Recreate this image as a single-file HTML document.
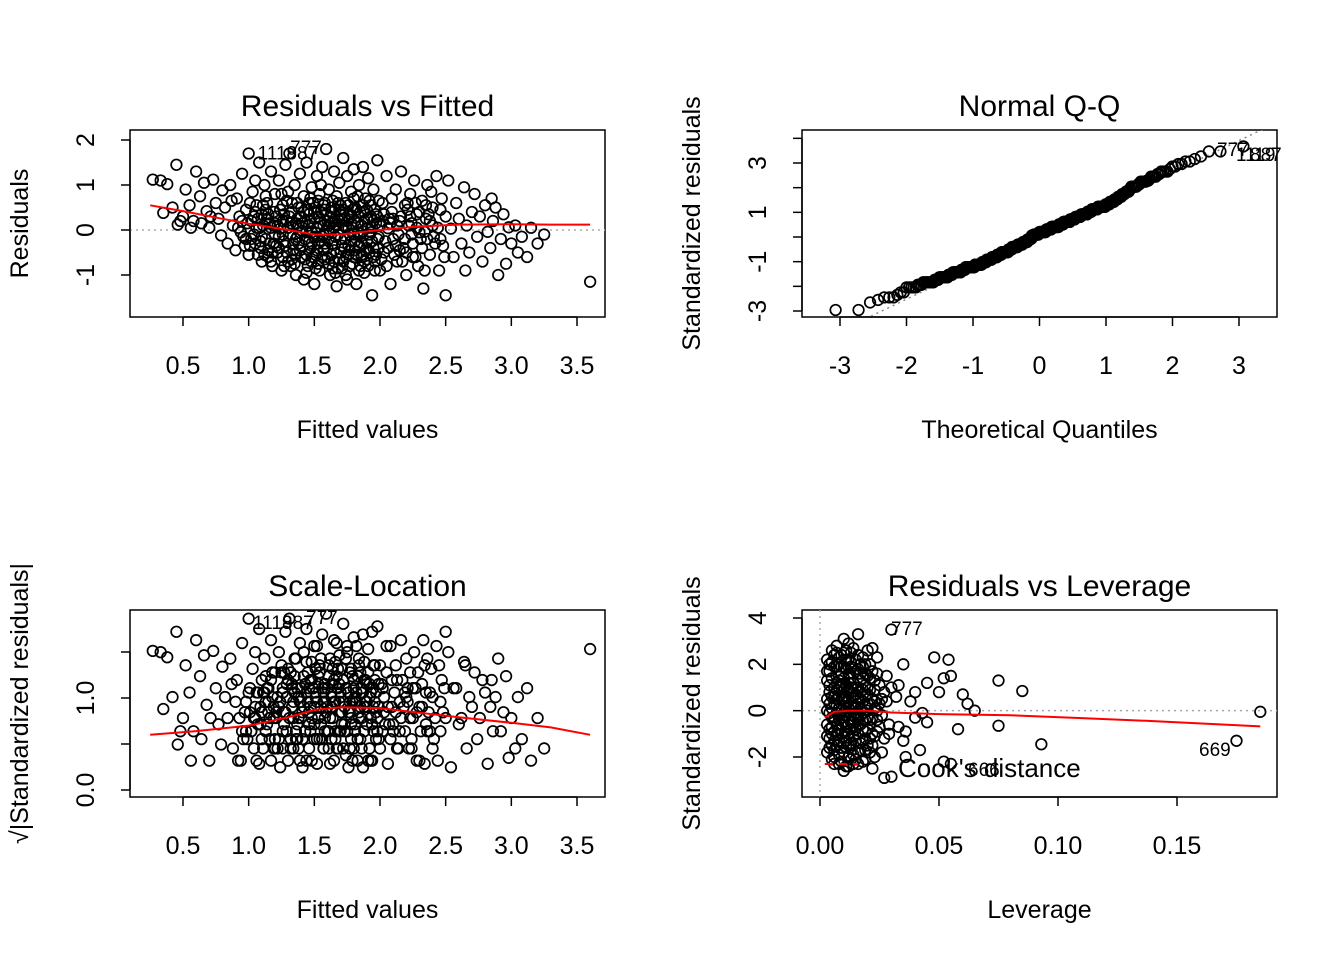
<!DOCTYPE html>
<html><head><meta charset="utf-8"><style>
html,body{margin:0;padding:0;background:#fff;}
svg{display:block;font-family:"Liberation Sans",Arial,sans-serif;}
</style></head><body>
<svg id="c" width="1344" height="960" viewBox="0 0 1344 960" xmlns="http://www.w3.org/2000/svg"></svg>
<script>
// ---- data ----
const fittedResidualPairs = "0.27 1.12,0.33 1.1,0.38 1.02,0.35 0.38,0.42 0.5,0.45 1.45,0.46 0.12,0.5 0.3,0.52 0.9,0.55 0.55,0.58 0.2,0.6 1.3,0.63 0.75,0.66 1.05,0.68 0.42,0.7 0.05,0.73 1.12,0.75 0.6,0.77 0.25,0.79 -0.12,0.8 0.88,0.48 0.2,0.56 0.05,0.64 0.15,0.71 0.3,"+
"0.82 0.5,0.84 -0.3,0.86 1.0,0.88 0.1,0.9 -0.45,0.91 0.7,0.93 0.3,0.95 1.25,0.96 -0.15,0.98 0.45,1.0 1.7,1.0 -0.55,1.02 0.2,1.03 0.85,1.05 -0.3,1.06 0.55,1.08 1.5,1.08 0.04,1.1 -0.7,1.1 0.35,1.12 1.0,1.13 -0.2,1.14 0.6,1.15 -0.45,1.16 0.15,1.17 1.3,1.18 -0.8,1.19 0.4,1.2 -0.1,1.2 0.8,0.87 0.65,0.94 -0.05,0.99 0.15,1.04 -0.1,1.07 0.25,1.11 0.1,1.15 -0.6,1.17 0.05,0.92 0.05,0.97 -0.35,1.01 0.6,1.09 -0.4,1.13 0.45,1.19 -0.3,1.05 1.1,"+
"1.21 0.3,1.22 -0.5,1.23 1.1,1.24 0.03,1.25 -0.9,1.26 0.55,1.27 -0.25,1.28 1.45,1.29 0.2,1.3 -0.7,1.3 0.85,1.31 1.7,1.32 -0.1,1.33 0.4,1.34 -0.45,1.35 1.0,1.36 -1.0,1.36 0.15,1.37 0.6,1.38 -0.3,1.39 1.25,1.4 -0.6,1.4 0.3,1.41 -0.03,1.42 -1.1,1.42 0.75,1.43 -0.2,1.44 1.5,1.45 0.45,1.45 -0.8,1.46 0.1,1.47 -0.4,1.48 0.95,1.48 -0.05,1.49 0.6,1.5 -1.2,1.5 0.25,1.51 -0.55,1.52 1.2,1.52 0.04,1.53 -0.3,1.54 0.8,1.54 -0.9,1.55 0.4,1.56 -0.15,1.56 1.4,1.57 0.1,1.58 -0.65,1.58 0.6,1.59 1.8,1.6 -0.4,1.6 0.2,1.25 0.8,1.27 0.35,1.32 -0.8,1.34 0.1,1.38 0.5,1.41 -0.35,1.43 0.2,1.47 0.7,1.49 -0.6,1.51 0.5,1.53 -0.75,1.55 1.0,1.57 -0.45,1.59 0.35,1.23 -0.15,1.28 -0.35,1.35 -0.55,1.39 -0.05,"+
"1.61 0.9,1.62 -1.0,1.62 -0.04,1.63 0.5,1.64 -0.3,1.65 1.3,1.65 -0.7,1.66 0.2,1.67 -1.25,1.67 0.75,1.68 -0.1,1.69 1.05,1.7 -0.5,1.7 0.35,1.71 -0.85,1.72 1.6,1.72 0.1,1.73 -0.2,1.74 0.6,1.75 -1.1,1.75 1.2,1.76 0.03,1.77 -0.45,1.78 0.85,1.78 0.3,1.79 -0.75,1.8 1.35,1.8 -0.1,1.81 0.5,1.82 -1.2,1.83 0.15,1.84 1.0,1.84 -0.35,1.85 0.4,1.86 -0.6,1.87 1.4,1.87 -0.03,1.88 -0.95,1.89 0.7,1.9 -0.25,1.9 0.25,1.91 1.15,1.92 -0.5,1.93 0.55,1.94 -1.45,1.94 0.05,1.95 0.9,1.96 -0.7,1.97 0.35,1.98 1.55,1.98 -0.2,1.99 0.65,2.0 -0.9,2.0 0.1,1.63 -0.55,1.66 0.45,1.68 -0.85,1.71 0.25,1.74 -0.6,1.76 0.55,1.79 0.05,1.81 -0.45,1.83 0.75,1.85 -0.15,1.88 0.2,1.9 -0.65,1.93 -0.05,1.96 0.45,1.99 -0.4,1.64 0.65,"+
"2.02 0.6,2.03 -0.5,2.05 1.2,2.06 0.04,2.08 -1.2,2.09 0.4,2.1 -0.2,2.12 0.9,2.13 -0.7,2.15 0.2,2.16 1.3,2.18 -0.4,2.19 0.55,2.2 -1.0,2.22 0.1,2.23 0.8,2.25 -0.3,2.26 1.1,2.28 0.35,2.29 -0.8,2.3 -0.05,2.32 0.65,2.33 -1.3,2.35 0.25,2.36 1.0,2.38 -0.55,2.4 0.5,2.41 -0.15,2.43 1.2,2.44 0.05,2.45 -0.9,2.47 0.7,2.48 -0.35,2.5 0.3,2.5 -1.45,2.07 0.25,2.14 -0.1,2.21 0.45,2.27 -0.6,2.34 -0.04,2.39 0.85,2.46 -0.2,2.11 -0.55,2.24 0.15,2.37 0.35,"+
"2.52 1.1,2.54 0.03,2.56 -0.6,2.58 0.6,2.6 0.25,2.62 -0.3,2.64 0.95,2.66 0.1,2.68 -0.5,2.7 0.4,2.72 0.8,2.74 -0.15,2.76 0.3,2.78 -0.7,2.8 0.55,2.82 -0.04,2.84 -0.4,2.86 0.2,2.88 0.5,2.9 -1.0,2.92 -0.2,2.94 0.35,2.96 -0.75,2.98 0.06,3.0 -0.3,3.03 0.1,3.05 -0.5,3.08 -0.15,3.12 -0.6,3.15 0.05,3.2 -0.3,3.25 -0.1,3.6 -1.15,2.65 -0.9,2.85 0.7,"+
"1.02 -0.2,1.06 0.05,1.1 -0.15,1.14 0.25,1.18 -0.5,1.22 0.1,1.26 -0.6,1.3 0.05,1.33 -0.65,1.37 -0.15,1.4 0.5,1.44 -0.55,1.46 0.35,1.5 -0.15,1.52 -0.45,1.55 -0.25,1.58 0.45,1.61 -0.2,1.62 0.3,1.65 -0.45,1.67 0.1,1.69 -0.65,1.7 0.55,1.73 -0.4,1.75 0.2,1.77 -0.8,1.78 -0.25,1.8 0.7,1.82 -0.55,1.84 0.3,1.86 -0.3,1.88 -0.7,1.9 0.45,1.92 -0.1,1.95 -0.4,1.97 0.15,1.26 0.2,1.31 0.3,1.36 -0.2,1.41 0.15,1.46 -0.25,1.5 0.4,1.54 0.15,1.57 -0.1,1.6 -0.6,1.63 0.15,1.66 -0.15,1.69 0.45,1.72 -0.7,1.74 0.07,1.77 0.35,1.81 0.2,1.85 -0.8,1.89 -0.45,1.93 0.3,1.97 -0.55,1.2 0.15,1.16 -0.3,1.12 -0.55,1.34 -0.3,1.44 -0.05,1.48 -0.7,1.53 0.3,1.58 -0.3,1.64 -0.85,1.71 -0.35,1.76 -0.55,1.79 0.45,1.83 -0.05,1.87 0.55,1.91 -0.8,1.95 0.2,2.04 -0.25,2.08 0.15,2.12 -0.35,2.16 0.3,2.2 -0.5,2.24 -0.1,2.28 0.05,2.32 -0.4,2.36 -0.2,2.4 0.1,"+
"1.05 0.4,1.09 -0.25,1.13 0.75,1.17 -0.7,1.21 -0.35,1.24 0.45,1.27 -0.8,1.29 0.65,1.32 0.15,1.35 -0.75,1.37 0.25,1.39 -0.45,1.42 0.4,1.44 -0.95,1.46 0.6,1.48 -0.3,1.51 -0.85,1.53 0.65,1.56 -0.6,1.58 0.2,1.61 -0.75,1.63 0.4,1.66 -0.95,1.68 0.6,1.7 -0.2,1.72 0.45,1.74 -1.0,1.76 -0.35,1.78 0.15,1.8 -0.6,1.82 0.45,1.84 -0.9,1.86 0.1,1.88 0.4,1.9 -0.4,1.92 0.65,1.94 -0.25,1.96 -0.9,1.98 0.3,2.01 -0.65,2.03 0.35,2.06 -0.4,2.09 0.7,2.13 0.1,2.17 -0.7,2.21 0.6,2.25 -0.6,2.3 0.4,2.34 -0.9,2.38 0.2,2.42 -0.3,2.46 0.45,2.49 -0.6,0.95 0.2,0.98 -0.2,1.01 -0.35,1.04 0.3,1.07 -0.55,1.11 0.55,1.15 0.35,1.19 0.1,1.23 -0.4,1.26 -0.1,1.29 -0.5,1.33 0.6,1.38 0.1,1.43 -0.65,1.47 0.2,1.52 -0.15,1.57 0.55,1.61 0.1,1.65 0.05,1.69 0.2,1.73 0.25,1.77 -0.1,1.81 -0.25,1.86 -0.55,1.91 0.05,1.95 -0.6,1.99 -0.15,2.02 0.2,2.05 -0.8,2.1 0.25,2.15 -0.45,2.19 -0.2,2.23 0.3,2.27 0.6,2.31 -0.2,2.35 0.55";
const levStdPairs = "0.003 0.5,0.004 -1.2,0.005 2.1,0.005 -0.3,0.006 1.0,0.006 -2.0,0.007 0.2,0.007 2.8,0.008 -0.8,0.008 1.5,0.009 -1.6,0.009 0.0,0.010 3.1,0.010 -0.5,0.010 0.9,0.011 -2.4,0.011 1.8,0.012 -1.0,0.012 0.4,0.013 2.5,0.013 -0.2,0.014 -1.9,0.014 1.2,0.015 0.7,0.015 -1.3,0.016 3.3,0.016 -0.6,0.017 2.0,0.017 0.1,0.018 -2.2,0.018 1.4,0.019 -0.9,0.019 0.6,0.020 2.6,0.020 -1.5,0.021 0.3,0.021 -0.4,0.022 1.7,0.022 -2.5,0.023 0.9,0.023 -1.1,0.024 2.3,0.024 0.0,0.025 -0.7,0.025 1.1,0.026 -1.8,0.026 0.5,0.004 0.8,0.004 -0.1,0.005 1.4,0.006 -0.9,0.006 0.3,0.007 -1.5,0.007 1.9,0.008 0.6,0.008 -0.4,0.009 2.4,0.009 1.1,0.010 -1.1,0.010 -2.6,0.011 0.1,0.011 -0.7,0.012 1.6,0.012 2.9,0.013 -1.4,0.013 0.8,0.014 -0.5,0.014 0.2,0.015 2.2,0.015 -2.1,0.016 1.0,0.016 -1.0,0.017 -0.2,0.017 1.3,0.018 0.4,0.018 -0.8,0.019 2.0,0.019 -1.7,0.020 0.0,0.020 1.5,0.021 -1.2,0.021 0.9,0.022 -0.3,0.022 2.7,0.023 -2.0,0.023 0.4,0.024 -0.9,0.024 1.6,0.012 -0.1,0.013 0.3,0.009 0.5,0.011 0.6,0.014 -0.2,0.010 0.2,0.016 0.3,0.008 0.1,0.015 -0.3,0.018 -0.1,0.012 -0.6,0.020 0.7,0.017 -1.4,0.019 1.1,0.013 1.9,0.011 -1.6,"+
"0.003 -0.6,0.003 1.3,0.003 -1.8,0.003 2.2,0.004 0.3,0.004 -0.8,0.004 1.7,0.005 -1.5,0.005 0.6,0.005 2.6,0.006 -0.4,0.006 1.9,0.006 -2.3,0.007 0.9,0.007 -1.0,0.007 -0.1,0.008 2.3,0.008 -1.9,0.008 1.0,0.009 -0.3,0.009 1.6,0.009 -2.2,0.010 0.6,0.010 1.9,0.010 -1.8,0.011 2.6,0.011 -0.2,0.011 1.1,0.012 -1.5,0.012 0.9,0.012 2.2,0.013 -0.8,0.013 -2.1,0.013 1.4,0.014 0.6,0.014 2.7,0.014 -1.1,0.015 0.1,0.015 1.7,0.015 -0.8,0.016 -1.8,0.016 0.6,0.016 2.4,0.017 -0.6,0.017 0.8,0.018 1.9,0.018 -1.3,0.019 0.2,0.019 -0.4,0.020 1.0,0.020 -0.8,0.021 2.0,0.021 -1.8,0.022 0.5,0.022 -1.0,0.023 1.3,0.024 -0.4,0.025 0.3,0.026 -0.2,0.027 0.8,0.027 -1.2,0.028 0.4,0.029 -0.6,0.028 1.5,0.030 1.0,0.029 -1.0,"+
"0.004 1.1,0.004 -1.6,0.005 -0.7,0.005 0.1,0.006 2.4,0.006 -1.3,0.007 1.2,0.007 -0.6,0.008 -2.3,0.008 2.0,0.009 0.8,0.009 -1.0,0.010 1.4,0.010 -1.4,0.011 0.4,0.011 2.2,0.012 -2.0,0.012 1.2,0.013 -0.5,0.013 2.1,0.014 1.6,0.014 -1.5,0.015 -0.1,0.015 1.0,0.016 -2.3,0.016 1.8,0.017 0.5,0.017 -1.7,0.018 0.9,0.018 2.3,0.019 -1.2,0.019 1.6,0.020 -0.3,0.021 1.4,0.022 -1.5,0.023 0.1,0.003 0.0,0.003 -1.1,0.003 1.7,0.005 -2.1,0.006 0.6,0.007 2.5,0.008 -1.3,0.009 1.9,0.010 -0.2,0.011 -1.3,0.012 0.1,0.013 1.0,0.014 -2.3,0.015 0.4,0.016 -0.3,0.017 1.6,0.018 -0.4,0.019 -2.1,0.020 0.3,0.004 2.0,0.005 -1.0,0.006 -1.7,0.007 0.5,0.008 1.3,0.009 -0.6,0.010 2.5,0.011 -0.9,0.012 -2.4,"+
"0.030 3.5,0.035 2.0,0.048 2.3,0.054 2.2,0.055 1.5,0.052 1.4,0.045 1.2,0.040 0.8,0.050 0.8,0.060 0.7,0.075 1.3,0.085 0.85,0.065 0.0,0.062 0.3,0.075 -0.65,0.093 -1.45,0.058 -0.8,0.052 -2.2,0.055 -2.3,0.042 -1.7,0.035 -1.3,0.036 -2.0,0.030 -2.85,0.027 -2.9,0.175 -1.3,0.185 -0.05,0.040 -0.3,0.045 -0.5,0.038 0.4,0.033 -0.7,0.032 0.6,0.043 -0.1,0.036 -0.9,0.033 1.1";
const xTicks1 = [0.5,1.0,1.5,2.0,2.5,3.0,3.5];
const yTicks1 = [-1,0,1,2];
const xTicks2 = [-3,-2,-1,0,1,2,3];
const yTicks2 = [-3,-2,-1,0,1,2,3,4];
const yLabels2 = [-3,-1,1,3];
const yTicks3 = [0,0.5,1.0,1.5];
const yLabels3 = [0,1.0];
const xTicks4 = [0,0.05,0.10,0.15];
const yTicks4 = [-2,0,2,4];
const smooth1X = [0.25,0.5,0.8,1.0,1.3,1.5,1.7,2.0,2.3,2.6,3.0,3.3,3.6];
const smooth1Y = [0.55,0.42,0.25,0.14,0.0,-0.1,-0.1,0.0,0.08,0.12,0.13,0.12,0.12];
const smooth3X = [0.25,0.6,1.0,1.3,1.5,1.7,2.0,2.3,2.6,3.0,3.3,3.6];
const smooth3Y = [0.6,0.64,0.7,0.79,0.87,0.9,0.89,0.84,0.79,0.73,0.68,0.6];
const smooth4X = [0.002,0.006,0.012,0.02,0.03,0.05,0.08,0.11,0.14,0.185];
const smooth4Y = [-0.3,-0.05,0.0,0.0,-0.08,-0.15,-0.2,-0.32,-0.45,-0.68];
const residualSD = 0.49;

const main = fittedResidualPairs.split(',').map(s=>s.trim().split(/\s+/).map(Number));
const levPts = levStdPairs.split(',').map(s=>s.trim().split(/\s+/).map(Number));

const svg = document.getElementById('c');
const NS = 'http://www.w3.org/2000/svg';
function mk(tag, attrs, parent, text){
  const e = document.createElementNS(NS, tag);
  for (const k in attrs) e.setAttribute(k, attrs[k]);
  if (text !== undefined) e.textContent = text;
  (parent||svg).appendChild(e);
  return e;
}
function lin(d0,d1,r0,r1){ return v => r0 + (v-d0)*(r1-r0)/(d1-d0); }

const P1 = {x: lin(0.5,3.5,183,577), y: lin(0,2,230,140), L:130,R:605,T:130,B:317};
const P2 = {x: lin(-3,3,840,1239), y: lin(-3,3,311,163), L:802,R:1277,T:130,B:317};
const P3 = {x: lin(0.5,3.5,183,577), y: lin(0,1,790,698), L:130,R:605,T:610,B:797};
const P4 = {x: lin(0,0.15,820,1177), y: lin(-2,4,757,618), L:802,R:1277,T:610,B:797};

function frame(P, name){
  const g = mk('g', {});
  
  
  const r = mk('rect',{x:P.L,y:P.T,width:P.R-P.L,height:P.B-P.T,fill:'none',stroke:'#000','stroke-width':1.5}, g);
  
  
  const clip = mk('clipPath',{id:name+'-clip'}, g);
  mk('rect',{x:P.L,y:P.T,width:P.R-P.L,height:P.B-P.T}, clip);
  const inner = mk('g',{'clip-path':'url(#'+name+'-clip)'}, g);
  return {g, inner};
}
function xAxis(P, g, ticks, fmt){
  const ax = mk('g',{}, g);
  
  
  const px = ticks.map(P.x);
  mk('line',{x1:px[0],x2:px[px.length-1],y1:P.B,y2:P.B,stroke:'#000','stroke-width':1.5}, ax);
  ticks.forEach((t,i)=>{
    mk('line',{x1:px[i],x2:px[i],y1:P.B,y2:P.B+9,stroke:'#000','stroke-width':1.5}, ax);
    const tx = mk('text',{x:px[i],y:P.B+57,'text-anchor':'middle','font-size':25}, ax, fmt(t));
    
    
  });
}
function yAxis(P, g, ticks, labels, fmt){
  const ax = mk('g',{}, g);
  
  
  const py = ticks.map(P.y);
  mk('line',{x1:P.L,x2:P.L,y1:py[0],y2:py[py.length-1],stroke:'#000','stroke-width':1.5}, ax);
  ticks.forEach((t,i)=>{
    mk('line',{x1:P.L-9,x2:P.L,y1:py[i],y2:py[i],stroke:'#000','stroke-width':1.5}, ax);
  });
  labels.forEach(t=>{
    const y = P.y(t), x = P.L-36;
    const tx = mk('text',{x:x,y:y,'text-anchor':'middle','font-size':25,transform:'rotate(-90 '+x+' '+y+')'}, ax, fmt(t));
    
    
  });
}
function texts(P, title, xl, yl, ylx){
  const cx = (P.L+P.R)/2;
  const t = mk('text',{x:cx,y:P.T-14,'text-anchor':'middle','font-size':30}, svg, title);
  
  
  const xt = mk('text',{x:cx,y:P.B+121,'text-anchor':'middle','font-size':25}, svg, xl);
  
  
  const cy = (P.T+P.B)/2;
  const yt = mk('text',{x:ylx,y:cy,'text-anchor':'middle','font-size':25,transform:'rotate(-90 '+ylx+' '+cy+')'}, svg, yl);
  
  
}
function pts(g, P, arr){
  arr.forEach(([a,b])=>{
    const c = mk('circle',{cx:P.x(a),cy:P.y(b),r:5.3,fill:'none',stroke:'#000','stroke-width':1.7}, g);
    
    
  });
}
function curve(g, P, xs, ys, name, dash){
  const d = xs.map((x,i)=>(i?'L':'M')+P.x(x).toFixed(1)+' '+P.y(ys[i]).toFixed(1)).join(' ');
  const p = mk('path',{d:d,fill:'none',stroke:'#f00','stroke-width':2}, g);
  if (dash) p.setAttribute('stroke-dasharray', dash);
  
  
}
function hdot(g,P,y){ mk('line',{x1:P.L,x2:P.R,y1:P.y(y),y2:P.y(y),stroke:'#aaa','stroke-width':1.5,'stroke-dasharray':'2 4'}, g); }
function lab(g,x,y,s,anchor){
  const t = mk('text',{x:x,y:y,'font-size':19,'text-anchor':anchor||'start'}, g, s);
  
  
}
const f1 = v=>v.toFixed(1);
const f0 = v=>String(v);

// ---- Panel 1: Residuals vs Fitted ----
{
  const F = frame(P1, 'residuals-vs-fitted');
  hdot(F.inner, P1, 0);
  pts(F.inner, P1, main);
  curve(F.inner, P1, smooth1X, smooth1Y, 'smooth-line');
  xAxis(P1, F.g, xTicks1, f1);
  yAxis(P1, F.g, yTicks1, yTicks1, f0);
  texts(P1, 'Residuals vs Fitted', 'Fitted values', 'Residuals', 28);
  lab(F.g, P1.x(1.0)+9, P1.y(1.7)+6, '1119');
  lab(F.g, P1.x(1.31)-3, P1.y(1.7)+6, '887');
  lab(F.g, P1.x(1.59)-36, P1.y(1.8)+5, '777');
}
// ---- Panel 2: Normal Q-Q ----
function qnorm(p){
  const a=[-39.6968302866538,220.946098424521,-275.928510446969,138.357751867269,-30.6647980661472,2.50662827745924];
  const b=[-54.4764768453124,161.585836858041,-155.698979859887,66.8013118877197,-13.2806815528984];
  const c=[-0.00778489400243029,-0.322396458041136,-2.40075827716184,-2.54973253934373,4.37466414146497,2.93816398269878];
  const d=[0.00778469570904146,0.32246712907004,2.445134137143,3.75440866190742];
  let q,r;
  if(p<0.02425){q=Math.sqrt(-2*Math.log(p));return (((((c[0]*q+c[1])*q+c[2])*q+c[3])*q+c[4])*q+c[5])/((((d[0]*q+d[1])*q+d[2])*q+d[3])*q+1);}
  if(p>1-0.02425){q=Math.sqrt(-2*Math.log(1-p));return -(((((c[0]*q+c[1])*q+c[2])*q+c[3])*q+c[4])*q+c[5])/((((d[0]*q+d[1])*q+d[2])*q+d[3])*q+1);}
  q=p-0.5;r=q*q;return (((((a[0]*r+a[1])*r+a[2])*r+a[3])*r+a[4])*r+a[5])*q/(((((b[0]*r+b[1])*r+b[2])*r+b[3])*r+b[4])*r+1);
}
{
  const F = frame(P2, 'normal-qq');
  const std = main.map(p=>p[1]/residualSD).sort((a,b)=>a-b);
  const n = std.length;
  const qq = std.map((s,i)=>[qnorm((i+0.5)/n), s]);
  const q1 = std[Math.floor(n*0.25)], q3 = std[Math.floor(n*0.75)];
  const t1 = qnorm(0.25), t3 = qnorm(0.75);
  const sl = (q3-q1)/(t3-t1), ic = q1 - sl*t1;
  const ql = mk('line',{x1:P2.x(-4),y1:P2.y(ic-4*sl),x2:P2.x(4),y2:P2.y(ic+4*sl),stroke:'#888','stroke-width':1.5,'stroke-dasharray':'2 4'}, F.inner);
  
  
  pts(F.inner, P2, qq);
  xAxis(P2, F.g, xTicks2, f0);
  yAxis(P2, F.g, yTicks2, yLabels2, f0);
  texts(P2, 'Normal Q-Q', 'Theoretical Quantiles', 'Standardized residuals', 700);
  lab(F.g, 1217, 156, '777');
  lab(F.g, 1236, 161, '1119');
  lab(F.g, 1250, 161, '887');
}
// ---- Panel 3: Scale-Location ----
{
  const F = frame(P3, 'scale-location');
  pts(F.inner, P3, main.map(p=>[p[0], Math.sqrt(Math.abs(p[1]/residualSD))]));
  curve(F.inner, P3, smooth3X, smooth3Y, 'smooth-line');
  xAxis(P3, F.g, xTicks1, f1);
  yAxis(P3, F.g, yTicks3, yLabels3, f1);
  texts(P3, 'Scale-Location', 'Fitted values', '√|Standardized residuals|', 28);
  lab(F.g, 253, 629, '1119');
  lab(F.g, 282, 629, '887');
  lab(F.g, 306, 624, '777');
}
// ---- Panel 4: Residuals vs Leverage ----
{
  const F = frame(P4, 'residuals-vs-leverage');
  hdot(F.inner, P4, 0);
  mk('line',{x1:P4.x(0),x2:P4.x(0),y1:P4.T,y2:P4.B,stroke:'#aaa','stroke-width':1.5,'stroke-dasharray':'2 4'}, F.inner);
  pts(F.inner, P4, levPts);
  curve(F.inner, P4, smooth4X, smooth4Y, 'smooth-line');
  curve(F.inner, P4, [0.002,0.016], [-2.3,-2.3], 'cooks-distance-line', '8 6');
  xAxis(P4, F.g, xTicks4, v=>v.toFixed(2));
  yAxis(P4, F.g, yTicks4, yTicks4, f0);
  texts(P4, 'Residuals vs Leverage', 'Leverage', 'Standardized residuals', 700);
  lab(F.g, 891, 635, '777');
  lab(F.g, 1199, 756, '669');
  lab(F.g, 968, 776, '666');
  const ck = mk('text',{x:898,y:777,'font-size':26}, F.g, "Cook's distance");
  
  
}
</script>
</body></html>
